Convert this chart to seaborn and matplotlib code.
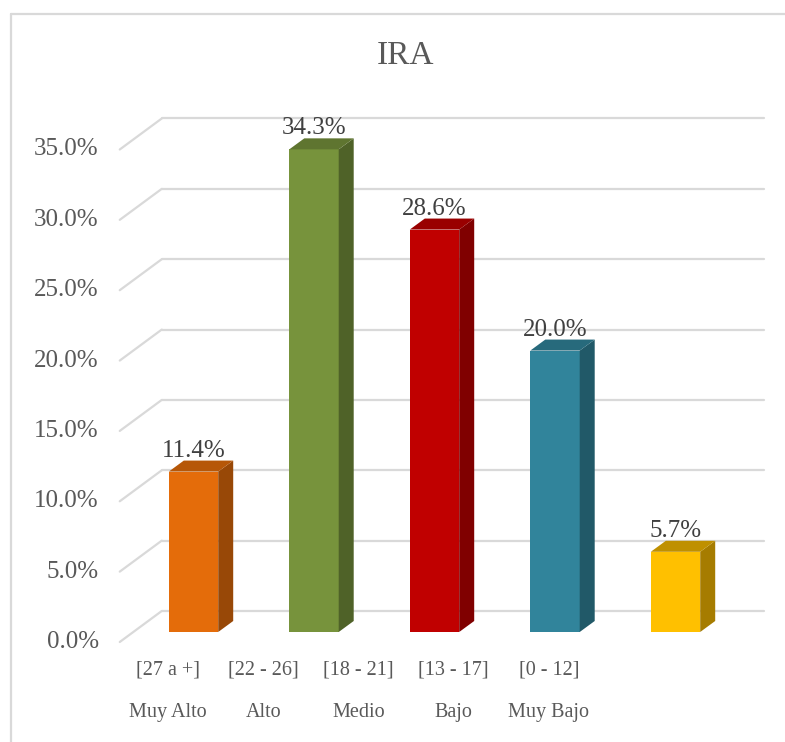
import matplotlib
matplotlib.use("Agg")
import matplotlib.pyplot as plt
import matplotlib.transforms as mtrans
from matplotlib.patches import Polygon
from matplotlib.lines import Line2D
import seaborn as sns
import pandas as pd
import numpy as np

# datos del grafico IRA
rangos = ["[27 a +]", "[22 - 26]", "[18 - 21]", "[13 - 17]", "[0 - 12]"]
niveles = ["Muy Alto", "Alto", "Medio", "Bajo", "Muy Bajo"]
porcentajes = [11.4, 34.3, 28.6, 20.0, 5.7]
color_frente = ["#E46C0A", "#77933C", "#C00000", "#31849B", "#FFC000"]
color_lado = ["#984807", "#4F6228", "#800000", "#215968", "#A67C00"]
color_techo = ["#B65708", "#5F7530", "#990000", "#276A7C", "#BF9000"]
yticks = [0, 5, 10, 15, 20, 25, 30, 35]

df = pd.DataFrame({"nivel": niveles, "pct": porcentajes})

W, H, DPI = 785, 742, 100
GRID = "#D9D9D9"
TXT = "#595959"

sns.set_theme(style="white")
plt.rcParams["font.family"] = ["Liberation Serif", "DejaVu Serif"]

fig = plt.figure(figsize=(W / DPI, H / DPI), dpi=DPI)
fig.patch.set_facecolor("white")
ax = fig.add_axes([133.25 / W, (H - 632) / H, 602.5 / W, 492.5 / H])
sns.barplot(data=df, x="nivel", y="pct", hue="nivel", palette=color_frente,
            width=0.41, legend=False, saturation=1, linewidth=0, ax=ax, zorder=3)
ax.set_xlim(-0.5, 4.5)
ax.set_ylim(0, 35)
ax.axis("off")

ident = mtrans.IdentityTransform()


def disp(x, y):
    return np.array(ax.transData.transform((x, y)))


# efecto 3D: profundidad de barras y pared del fondo (en pixeles)
prof = np.array([15.0, 11.0])
fondo = np.array([28.5, 21.0])
frente = np.array([-13.5, -10.0])

for y in yticks:
    izq = disp(-0.5, y)
    der = disp(4.5, y)
    a, b = izq + fondo, der + fondo
    c = izq + frente
    ax.add_line(Line2D([a[0], b[0]], [a[1], b[1]], transform=ident, color=GRID,
                       lw=1.6, clip_on=False, zorder=1))
    ax.add_line(Line2D([c[0], a[0]], [c[1], a[1]], transform=ident, color=GRID,
                       lw=1.6, clip_on=False, zorder=1))
    ax.text(c[0] - 21, c[1], f"{y:.1f}%", transform=ident, ha="right", va="center",
            fontsize=18, color=TXT)

for i, p in enumerate(ax.patches):
    x0, w, h = p.get_x(), p.get_width(), p.get_height()
    bl, br = disp(x0, 0), disp(x0 + w, 0)
    tl, tr = disp(x0, h), disp(x0 + w, h)
    lado = Polygon([br, br + prof, tr + prof, tr], closed=True, transform=ident,
                   facecolor=color_lado[i], edgecolor="none", clip_on=False, zorder=3)
    techo = Polygon([tl, tr, tr + prof, tl + prof], closed=True, transform=ident,
                    facecolor=color_techo[i], edgecolor="none", clip_on=False, zorder=3)
    ax.add_patch(lado)
    ax.add_patch(techo)
    ax.annotate(f"{h:.1f}%", xy=(x0 + w / 2, h), xytext=(0, 10.8),
                textcoords="offset points", ha="center", va="baseline",
                fontsize=18, color="#404040", annotation_clip=False)

# etiquetas de categoria sobre el borde frontal del piso
for i, (r, n) in enumerate(zip(rangos, niveles)):
    pos = disp(-0.2116 + 0.790 * i, 0)
    ax.text(pos[0], pos[1] - 29, r, transform=ident, ha="center", va="top",
            fontsize=14.5, color=TXT)
    ax.text(pos[0], pos[1] - 71, n, transform=ident, ha="center", va="top",
            fontsize=14.5, color=TXT)

fig.text(406 / W, 1 - 56 / H, "IRA", ha="center", va="center", fontsize=24, color=TXT)

# marco del grafico
fig.add_artist(Line2D([11 / W, 11 / W], [0, 1 - 14 / H], transform=fig.transFigure,
                      color=GRID, lw=1.6))
fig.add_artist(Line2D([11 / W, 1], [1 - 14 / H, 1 - 14 / H], transform=fig.transFigure,
                      color=GRID, lw=1.6))

fig.savefig("out.png", dpi=DPI, facecolor="white")
